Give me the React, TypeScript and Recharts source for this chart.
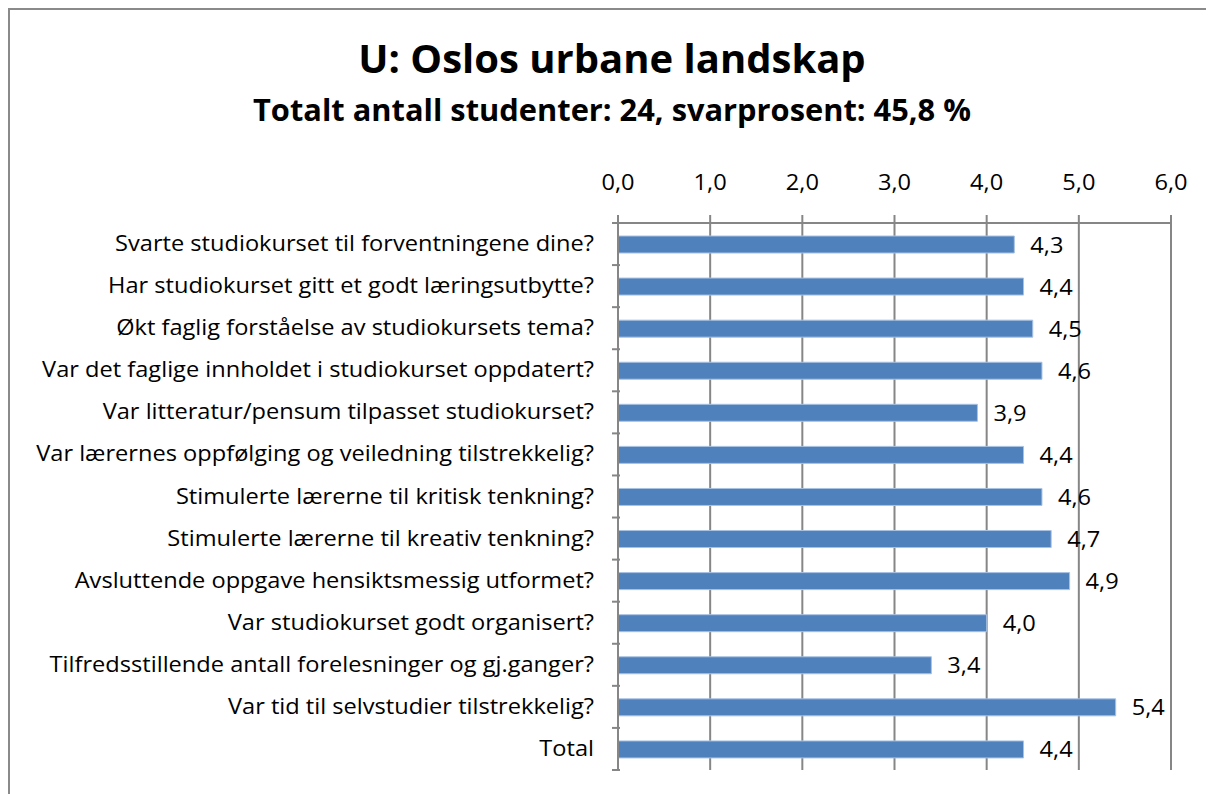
import { BarChart, Bar, XAxis, YAxis, CartesianGrid, LabelList } from "recharts";

const questions = [
  "Svarte studiokurset til forventningene dine?",
  "Har studiokurset gitt et godt læringsutbytte?",
  "Økt faglig forståelse av studiokursets tema?",
  "Var det faglige innholdet i studiokurset oppdatert?",
  "Var litteratur/pensum tilpasset studiokurset?",
  "Var lærernes oppfølging og veiledning tilstrekkelig?",
  "Stimulerte lærerne til kritisk tenkning?",
  "Stimulerte lærerne til kreativ tenkning?",
  "Avsluttende oppgave hensiktsmessig utformet?",
  "Var studiokurset godt organisert?",
  "Tilfredsstillende antall forelesninger og gj.ganger?",
  "Var tid til selvstudier tilstrekkelig?",
  "Total",
];
const scores = [4.3, 4.4, 4.5, 4.6, 3.9, 4.4, 4.6, 4.7, 4.9, 4.0, 3.4, 5.4, 4.4];
const xTicks = [0, 1, 2, 3, 4, 5, 6];

const title = "U: Oslos urbane landskap";
const subtitle = "Totalt antall studenter: 24, svarprosent: 45,8 %";

const rows = questions.map((q, i) => ({ name: q, value: scores[i] }));

const W = 1204;
const H = 784;
const margin = { top: 173, right: 43, bottom: 24, left: 0 };
const xAxisHeight = 40;
const FONT = "'Open Sans', 'Noto Sans', sans-serif";
const GRID = "#868686";
const LABEL_SIZE = 22.5;
const comma = (v: number) => Number(v).toFixed(1).replace(".", ",");

const band = (H - margin.top - xAxisHeight - margin.bottom) / questions.length;

// text slightly widened horizontally, the original font runs wider than Open Sans
function WideText({ x, y, anchor = "start", size = LABEL_SIZE, weight = 400, sx = 1.05, children }: any) {
  return (
    <text
      transform={`translate(${x},${y}) scale(${sx},1)`}
      textAnchor={anchor}
      fontSize={size}
      fontWeight={weight}
      fontFamily={FONT}
      fill="#000"
    >
      {children}
    </text>
  );
}

function CategoryTick(props: any) {
  const { x, y, payload, index } = props;
  const ax = x + 10;
  return (
    <g>
      <WideText x={x - 16} y={y + 7} anchor="end">
        {payload.value}
      </WideText>
      <line x1={ax - 8} x2={ax} y1={y - band / 2} y2={y - band / 2} stroke={GRID} strokeWidth={2} />
      {index === questions.length - 1 && (
        <line x1={ax - 8} x2={ax} y1={y + band / 2} y2={y + band / 2} stroke={GRID} strokeWidth={2} />
      )}
    </g>
  );
}

function ValueTick(props: any) {
  const { x, payload } = props;
  return (
    <WideText x={x} y={179.5} anchor="middle">
      {comma(payload.value)}
    </WideText>
  );
}

function ValueLabel(props: any) {
  const { x, y, width, height, value } = props;
  return (
    <WideText x={x + width + 16} y={y + height / 2 + 8}>
      {comma(value)}
    </WideText>
  );
}

export default function App() {
  return (
    <div
      style={{
        position: "relative",
        width: W,
        height: H,
        borderTop: "2px solid #8a8a8a",
        borderLeft: "2px solid #8a8a8a",
        background: "#fff",
      }}
    >
      <BarChart layout="vertical" width={W} height={H} data={rows} margin={margin}>
        <WideText x={602} y={63} anchor="middle" size={40} weight={700} sx={1}>
          {title}
        </WideText>
        <WideText x={602} y={111} anchor="middle" size={29.5} weight={700} sx={1.045}>
          {subtitle}
        </WideText>
        <CartesianGrid vertical horizontal={false} stroke={GRID} strokeWidth={2} />
        <XAxis
          type="number"
          orientation="top"
          domain={[0, 6]}
          ticks={xTicks}
          height={xAxisHeight}
          axisLine={{ stroke: GRID, strokeWidth: 2 }}
          tickLine={{ stroke: GRID, strokeWidth: 2 }}
          tickSize={8}
          tick={<ValueTick />}
          interval={0}
        />
        <YAxis
          type="category"
          dataKey="name"
          width={608}
          axisLine={{ stroke: GRID, strokeWidth: 2 }}
          tickLine={false}
          tick={<CategoryTick />}
          interval={0}
        />
        <Bar
          dataKey="value"
          fill="#4F81BD"
          stroke="#A9C2E2"
          strokeWidth={1}
          barSize={17}
          isAnimationActive={false}
        >
          <LabelList dataKey="value" content={<ValueLabel />} />
        </Bar>
      </BarChart>
    </div>
  );
}
